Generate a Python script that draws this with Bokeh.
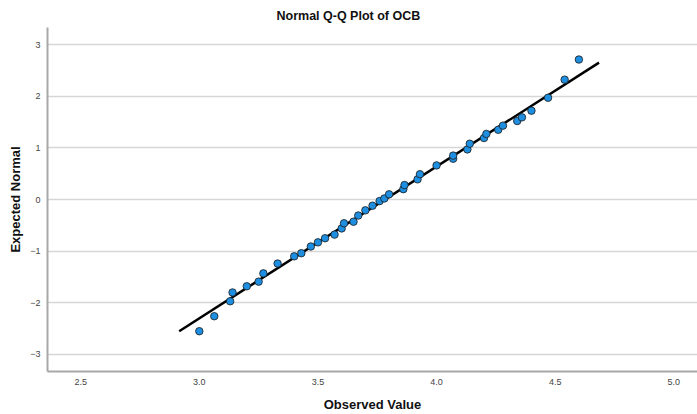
from bokeh.plotting import figure
from bokeh.embed import file_html
from bokeh.resources import INLINE
from bokeh.models import FixedTicker, Range1d, NumeralTickFormatter, ColumnDataSource

# Data
observed = [3.00, 3.063, 3.13, 3.14, 3.20, 3.25, 3.27, 3.33, 3.40, 3.43,
            3.47, 3.50, 3.53, 3.57, 3.60, 3.61, 3.65, 3.67, 3.70, 3.73,
            3.76, 3.78, 3.80, 3.86, 3.865, 3.92, 3.93, 4.00, 4.07, 4.07,
            4.13, 4.14, 4.20, 4.21, 4.26, 4.28, 4.34, 4.36, 4.40, 4.47,
            4.54, 4.60]
expected = [-2.55, -2.26, -1.97, -1.80, -1.68, -1.59, -1.43, -1.24, -1.10, -1.04,
            -0.91, -0.83, -0.75, -0.68, -0.56, -0.46, -0.43, -0.31, -0.21, -0.12,
            -0.03, 0.02, 0.10, 0.20, 0.28, 0.39, 0.49, 0.66, 0.79, 0.85,
            0.97, 1.08, 1.19, 1.27, 1.35, 1.43, 1.52, 1.59, 1.72, 1.97,
            2.32, 2.71]
line_x = [2.915, 4.685]
line_y = [-2.55, 2.65]
x_ticks = [2.5, 3.0, 3.5, 4.0, 4.5, 5.0]
y_ticks = [-3, -2, -1, 0, 1, 2, 3]

FONT = "Liberation Sans"

p = figure(width=697, height=414, output_backend="svg", toolbar_location=None,
           title="Normal Q-Q Plot of OCB",
           x_range=Range1d(2.36, 5.10), y_range=Range1d(-3.33, 3.33),
           min_border_left=47, min_border_right=0, min_border_top=27,
           min_border_bottom=43)

p.title.align = "left"
p.title.offset = 229
p.title.text_font = FONT
p.title.text_font_size = "12.5px"
p.title.text_font_style = "bold"
p.title.text_color = "#111111"
p.outline_line_color = None
p.background_fill_color = "white"
p.border_fill_color = "white"

p.xgrid.grid_line_color = None
p.ygrid.grid_line_color = "#d6d6d6"
p.ygrid.grid_line_width = 1.5

for ax in (p.xaxis, p.yaxis):
    ax.axis_line_color = "#a8a8a8"
    ax.axis_line_width = 2
    ax.major_tick_line_color = None
    ax.minor_tick_line_color = None
    ax.major_tick_out = 0
    ax.major_tick_in = 0
    ax.minor_tick_out = 0
    ax.minor_tick_in = 0
    ax.major_label_text_font = FONT
    ax.major_label_text_font_size = "9px"
    ax.major_label_text_color = "#444444"
    ax.axis_label_text_font = FONT
    ax.axis_label_text_font_size = "13px"
    ax.axis_label_text_font_style = "bold"
    ax.axis_label_text_color = "#111111"

p.xaxis.ticker = FixedTicker(ticks=x_ticks)
p.xaxis.formatter = NumeralTickFormatter(format="0.0")
p.xaxis.major_label_standoff = 7
p.xaxis.axis_label = "Observed Value"
p.xaxis.axis_label_standoff = 9

p.yaxis.ticker = FixedTicker(ticks=y_ticks)
p.yaxis.major_label_standoff = 7
p.yaxis.axis_label = "Expected Normal"
p.yaxis.axis_label_standoff = 4

p.line(line_x, line_y, line_color="black", line_width=2.5)

src = ColumnDataSource(dict(x=observed, y=expected))
p.scatter("x", "y", source=src, size=7.5, fill_color="#1e8ee0",
          line_color="#1a1a1a", line_width=0.8)

open("out.html", "w").write(file_html(p, INLINE))
